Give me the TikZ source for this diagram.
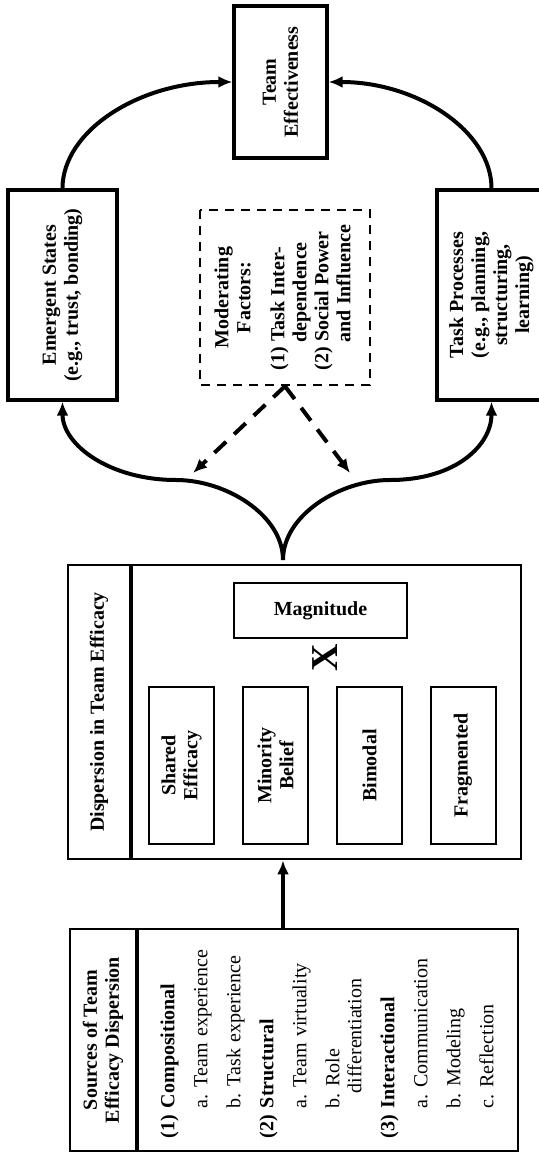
\documentclass[tikz,border=0pt]{standalone}
\usepackage{fontspec}
\setmainfont{Liberation Serif}
\usetikzlibrary{arrows.meta}

\begin{document}
\begin{tikzpicture}[x = .5pt, y = -.5pt,
    every node/.style = {font = \fontsize{10}{11}\selectfont\bfseries, align = center, inner sep = 0pt},
    bigbox/.style = {draw, line width = 1.6pt, rotate = 90, minimum width = 105pt, minimum height = 54.5pt},
    framebox/.style = {draw, line width = 1.4pt, rotate = 90},
    smallbox/.style = {draw, line width = 1pt, rotate = 90, minimum width = 78.5pt, minimum height = 32.5pt},
    flow/.style = {line width = 2pt, -{Latex[length = 7pt, width = 6pt]}},
    modarrow/.style = {line width = 2pt, dash pattern = on 8pt off 5.5pt, -{Latex[length = 7pt, width = 6pt]}}]
  \useasboundingbox (0,0) rectangle (539,1154);

  \node [bigbox, minimum width = 76pt, minimum height = 46.5pt] (eff) at (280.5,82) {Team\\Effectiveness};
  \node [bigbox] (es) at (62.5,295) {Emergent States\\(e.g., trust, bonding)};
  \node [bigbox] (tp) at (491.5,295) {Task Processes\\(e.g., planning,\\structuring,\\learning)};
  \node [draw, rotate = 90, line width = 1.2pt, dash pattern = on 4.5pt off 3.5pt, minimum width = 87.5pt, minimum height = 85pt] (mod) at (285,297.5)
    {\begin{tabular}{@{}l@{}}
      \multicolumn{1}{@{}c@{}}{Moderating}\\
      \multicolumn{1}{@{}c@{}}{Factors:}\\[6pt]
      (1) Task Inter-\\
      \hspace*{14pt}dependence\\
      (2) Social Power\\
      \hspace*{14pt}and Influence
    \end{tabular}};

  \node [framebox, minimum width = 147pt, minimum height = 31pt] (disphead) at (99,712) {Dispersion in Team Efficacy};
  \node [framebox, minimum width = 147pt, minimum height = 195.5pt] (dispbody) at (325.5,712) {};
  \draw [line width = 2pt] (disphead.south west) -- (disphead.south east);
  \node [draw, line width = 1pt, minimum width = 86.5pt, minimum height = 27.5pt] (mag) at (320.5,610.5) {Magnitude};
  \node [rotate = 90, font = \fontsize{19}{19}\selectfont\bfseries] (times) at (325,658) {X};
  \node [smallbox] (shared) at (181.5,765.5) {Shared\\Efficacy};
  \node [smallbox] (minority) at (275.5,765.5) {Minority\\Belief};
  \node [smallbox] (bimodal) at (369.5,765.5) {Bimodal};
  \node [smallbox] (frag) at (463,765.5) {Fragmented};

  \node [framebox, minimum width = 111pt, minimum height = 33pt] (srchead) at (103,1040) {Sources of Team\\Efficacy Dispersion};
  \node [framebox, minimum width = 111pt, minimum height = 191pt, text width = 98pt, align = left] (srcbody) at (327,1040)
    {(1) Compositional\\[5.5pt]
     \mdseries\hspace*{15pt}a.\ Team experience\\[5.5pt]
     \hspace*{15pt}b.\ Task experience\\[5.5pt]
     \bfseries(2) Structural\\[5.5pt]
     \mdseries\hspace*{15pt}a.\ Team virtuality\\[5.5pt]
     \hspace*{15pt}b.\ Role\\
     \hspace*{22.5pt}differentiation\\[5.5pt]
     \bfseries(3) Interactional\\[5.5pt]
     \mdseries\hspace*{15pt}a.\ Communication\\[5.5pt]
     \hspace*{15pt}b.\ Modeling\\[5.5pt]
     \hspace*{15pt}c.\ Reflection};
  \draw [line width = 1.8pt] (srchead.south west) -- (srchead.south east);

  \coordinate (split) at (283,560);
  \coordinate (modl) at (193,473);
  \coordinate (modr) at (350,473);
  \draw [flow] (split |- srcbody.east) -- (split |- dispbody.west);
  \draw [flow] (split) .. controls (283,515) and (226,480) .. (176,480) .. controls (110,480) and (62.5,445) .. (es.west);
  \draw [flow] (split) .. controls (283,515) and (340,480) .. (390,480) .. controls (456,480) and (491.5,445) .. (tp.west);
  \draw [modarrow] (mod.west) -- (modl);
  \draw [modarrow] (mod.west) -- (modr);
  \draw [flow] (es.east) .. controls (62.5,131) and (139,82) .. (eff.north);
  \draw [flow] (tp.east) .. controls (491.5,131) and (417,82) .. (eff.south);
\end{tikzpicture}
\end{document}
